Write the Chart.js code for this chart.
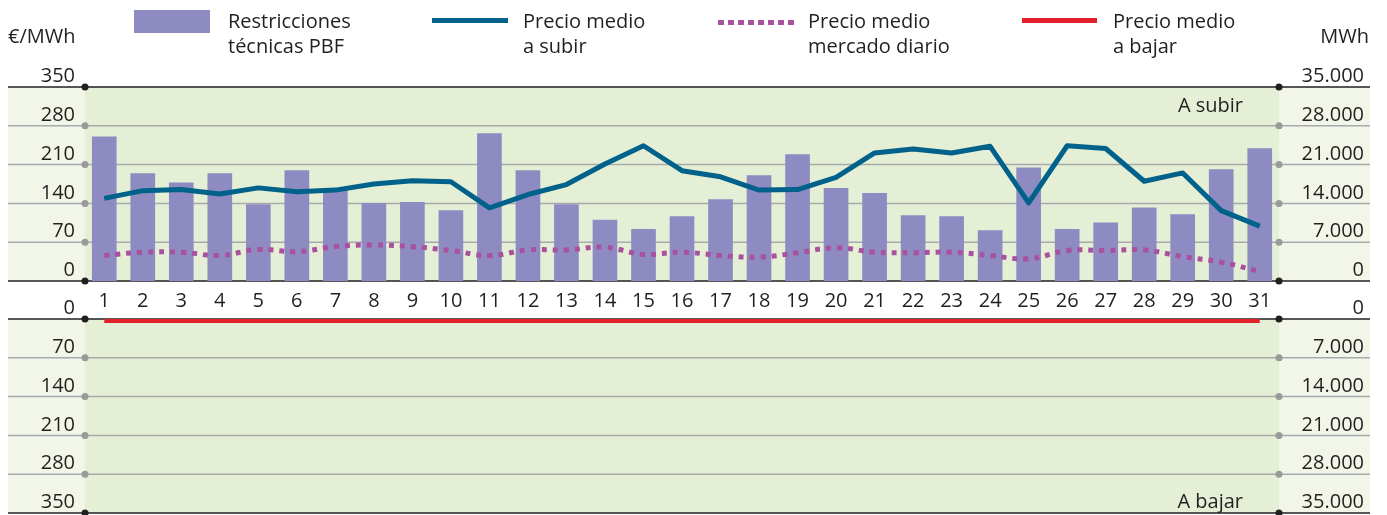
<!DOCTYPE html>
<html lang="es">
<head>
<meta charset="utf-8">
<title>Restricciones técnicas PBF</title>
<script src="https://cdn.jsdelivr.net/npm/chart.js@4.4.1/dist/chart.umd.min.js"></script>
<style>
  body { margin:0; background:#fff; font-family:'Open Sans',sans-serif; color:#231f20; }
  #wrap { position:relative; width:1387px; height:515px; overflow:hidden; }
  canvas { position:absolute; left:0; }
  #cSubir { top:0; }
  #cBajar { top:290px; }
  .txt { position:absolute; font-size:20px; line-height:25px; white-space:nowrap; }
  .sw { position:absolute; }
</style>
</head>
<body>
<div id="wrap">
  <canvas id="cSubir" width="1387" height="320"></canvas>
  <canvas id="cBajar" width="1387" height="260"></canvas>

  <!-- leyenda y unidades -->
  <div class="txt" style="left:8px;top:23px">€/MWh</div>
  <div class="txt" style="right:18px;top:23px">MWh</div>

  <div class="sw" style="left:134px;top:10px;width:76px;height:23px;background:#8d8bc1"></div>
  <div class="txt" style="left:228px;top:8px">Restricciones<br>técnicas PBF</div>

  <div class="sw" style="left:432px;top:18px;width:76px;height:5px;background:#00628a"></div>
  <div class="txt" style="left:523px;top:8px">Precio medio<br>a subir</div>

  <div class="sw" style="left:718px;top:20px;width:76px;height:5px;background:repeating-linear-gradient(90deg,#a9509f 0 6px,transparent 6px 10px)"></div>
  <div class="txt" style="left:808px;top:8px">Precio medio<br>mercado diario</div>

  <div class="sw" style="left:1022px;top:18px;width:75px;height:5px;background:#e4202a"></div>
  <div class="txt" style="left:1113px;top:8px">Precio medio<br>a bajar</div>
</div>

<script>
// días del mes
const dias = ['1','2','3','4','5','6','7','8','9','10','11','12','13','14','15','16',
  '17','18','19','20','21','22','23','24','25','26','27','28','29','30','31'];

// energía de restricciones técnicas PBF (MWh, eje derecho)
const restriccionesMWh = [26000,19400,17700,19400,13800,19900,16400,14000,14200,12700,
  26600,19900,13800,11000,9300,11600,14700,19000,22800,16700,15800,11800,11600,9100,
  20400,9300,10500,13200,12000,20100,23900];

// precios (€/MWh, eje izquierdo)
const precioSubir = [149,163,165,157,168,161,164,175,181,179,132,156,174,211,244,199,
  188,164,165,187,231,238,231,243,141,244,239,180,195,127,99];
const precioDiario = [46,52,52,46,57,53,62,65,62,55,46,56,56,61,48,52,46,43,51,60,52,
  51,52,46,40,55,55,56,44,34,17];
const precioBajar = [3,3,3,3,3,3,3,3,3,3,3,3,3,3,3,3,3,3,3,3,3,3,3,3,3,3,3,3,3,3,3];

// escalas
const precioMax = 350, precioPaso = 70;
const mwhMax = 35000, mwhPaso = 7000;

const miles = v => String(v).replace(/\B(?=(\d{3})+(?!\d))/g, '.');

Chart.defaults.font.family = "'Open Sans', sans-serif";
Chart.defaults.font.size = 20;
Chart.defaults.color = '#231f20';

// fondo del panel, bandas laterales, líneas de rejilla con puntos y rótulo
const panel = {
  id: 'panel',
  beforeDraw(chart, args, o) {
    const { ctx, chartArea: a } = chart;
    const yP = chart.scales.yPrecio;
    ctx.save();
    ctx.fillStyle = o.bandColor;
    ctx.fillRect(o.bandLeft, a.top, a.left - o.bandLeft, a.bottom - a.top);
    ctx.fillRect(a.right, a.top, o.bandRight - a.right, a.bottom - a.top);
    ctx.fillStyle = o.areaColor;
    ctx.fillRect(a.left, a.top, a.right - a.left, a.bottom - a.top);

    const n = yP.ticks.length;
    yP.ticks.forEach((t, i) => {
      const y = yP.getPixelForTick(i);
      const edge = i === 0 || i === n - 1;
      ctx.strokeStyle = edge ? o.edgeColor : o.gridColor;
      ctx.lineWidth = 1.5;
      ctx.beginPath();
      ctx.moveTo(o.bandLeft, y);
      ctx.lineTo(o.bandRight, y);
      ctx.stroke();
      ctx.fillStyle = edge ? o.edgeColor : o.dotColor;
      [a.left, a.right].forEach(x => {
        ctx.beginPath();
        ctx.arc(x, y, 3.5, 0, Math.PI * 2);
        ctx.fill();
      });
    });

    ctx.fillStyle = '#231f20';
    ctx.font = "20px 'Open Sans', sans-serif";
    ctx.textAlign = 'right';
    ctx.textBaseline = 'alphabetic';
    const ty = o.textTop ? a.top + 25 : a.bottom - 5;
    ctx.fillText(o.text, a.right - 36, ty);
    ctx.restore();
  }
};

function ejeY(pos, max, paso, reverse, fmt) {
  return {
    position: pos, min: 0, max: max, reverse: reverse,
    grid: { display: false, drawTicks: false },
    border: { display: false },
    ticks: {
      stepSize: paso,
      padding: pos === 'left' ? 10 : 0,
      labelOffset: -10.5,
      crossAlign: pos === 'left' ? 'near' : 'far',
      callback: fmt
    },
    afterFit: s => { s.width = 85; }
  };
}

const panelOpts = {
  bandLeft: 8, bandRight: 1370,
  bandColor: '#f1f6e8', areaColor: '#e4efd6',
  gridColor: '#a7a9ac', dotColor: '#9a9a9a', edgeColor: '#231f20'
};

// panel superior: a subir
new Chart(document.getElementById('cSubir'), {
  type: 'bar',
  data: {
    labels: dias,
    datasets: [
      { type: 'line', label: 'Precio medio a subir', data: precioSubir, yAxisID: 'yPrecio',
        borderColor: '#00628a', borderWidth: 5, pointRadius: 0, tension: 0,
        borderJoinStyle: 'round', order: 1 },
      { type: 'line', label: 'Precio medio mercado diario', data: precioDiario, yAxisID: 'yPrecio',
        borderColor: '#a9509f', borderWidth: 5, borderDash: [5, 6], pointRadius: 0,
        tension: 0.4, order: 2 },
      { type: 'bar', label: 'Restricciones técnicas PBF', data: restriccionesMWh, yAxisID: 'yMWh',
        backgroundColor: '#8d8bc1', barThickness: 24, order: 3 }
    ]
  },
  options: {
    responsive: false, animation: false, devicePixelRatio: 1,
    layout: { padding: { top: 87, right: 23, left: 0, bottom: 0 } },
    plugins: {
      legend: { display: false }, tooltip: { enabled: false },
      panel: Object.assign({ text: 'A subir', textTop: true }, panelOpts)
    },
    scales: {
      x: {
        offset: true,
        grid: { display: false, drawTicks: false }, border: { display: false },
        ticks: { autoSkip: false, maxRotation: 0, padding: 8 },
        afterFit: s => { s.height = 39; }
      },
      yPrecio: ejeY('left', precioMax, precioPaso, false, v => v),
      yMWh: ejeY('right', mwhMax, mwhPaso, false, v => miles(v))
    }
  },
  plugins: [panel]
});

// panel inferior: a bajar (ejes invertidos); el lienzo sobresale por abajo
new Chart(document.getElementById('cBajar'), {
  type: 'line',
  data: {
    labels: dias,
    datasets: [
      { label: 'Precio medio a bajar', data: precioBajar, yAxisID: 'yPrecio',
        borderColor: '#e4202a', borderWidth: 4.5, pointRadius: 0, tension: 0 }
    ]
  },
  options: {
    responsive: false, animation: false, devicePixelRatio: 1,
    layout: { padding: { top: 29, right: 23, left: 0, bottom: 37 } },
    plugins: {
      legend: { display: false }, tooltip: { enabled: false },
      panel: Object.assign({ text: 'A bajar', textTop: false }, panelOpts)
    },
    scales: {
      x: { display: false, offset: true },
      yPrecio: ejeY('left', precioMax, precioPaso, true, v => v),
      yMWh: ejeY('right', mwhMax, mwhPaso, true, v => miles(v))
    }
  },
  plugins: [panel]
});
</script>
</body>
</html>
